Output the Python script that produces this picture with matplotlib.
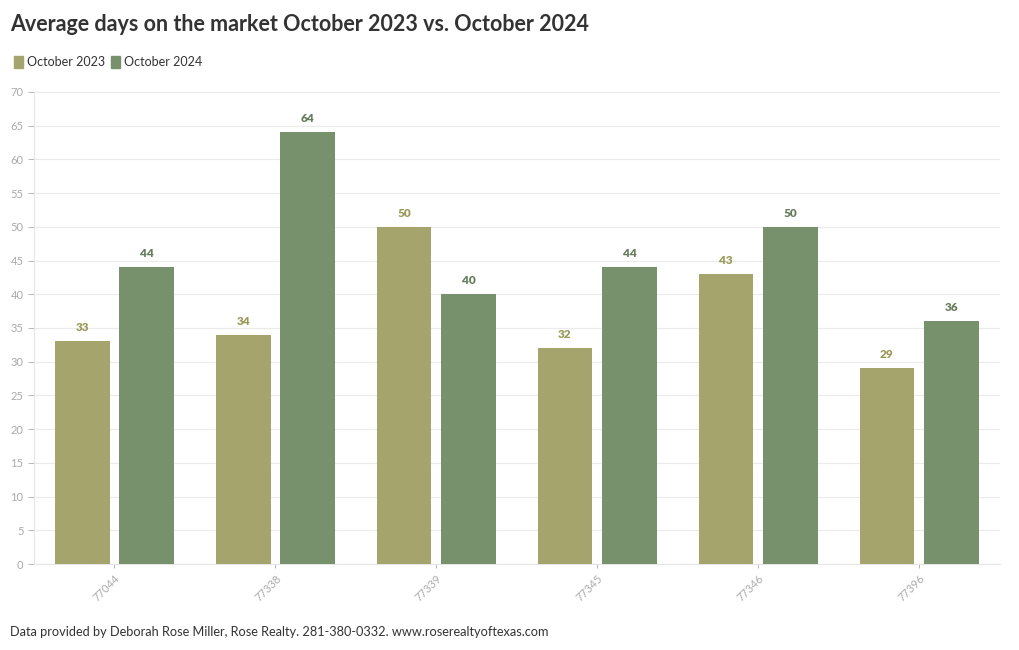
import matplotlib.pyplot as plt
import numpy as np
from matplotlib.patches import Patch

plt.rcParams['font.family'] = ['Lato', 'DejaVu Sans']

zips = ['77044', '77338', '77339', '77345', '77346', '77396']
oct_2023 = [33, 34, 50, 32, 43, 29]
oct_2024 = [44, 64, 40, 44, 50, 36]

c23 = '#a5a46c'
c24 = '#78916d'

fig = plt.figure(figsize=(10.2, 6.5), dpi=100)
ax = fig.add_axes([0.0333, 0.1323, 0.9467, 0.7262])

x = np.arange(len(zips))
w = 0.34
b1 = ax.bar(x - 0.2, oct_2023, w, color=c23, zorder=3)
b2 = ax.bar(x + 0.2, oct_2024, w, color=c24, zorder=3)

# value labels above each bar
for rect, v in zip(b1, oct_2023):
    ax.text(rect.get_x() + rect.get_width() / 2, v + 1.2, str(v), ha='center', va='bottom',
            fontsize=8.5, fontweight='heavy', color='#9a9a58')
for rect, v in zip(b2, oct_2024):
    ax.text(rect.get_x() + rect.get_width() / 2, v + 1.2, str(v), ha='center', va='bottom',
            fontsize=8.5, fontweight='heavy', color='#667d5c')

ax.set_xlim(-0.5, len(zips) - 0.5)
ax.set_ylim(0, 70)
ax.set_yticks(range(0, 71, 5))
ax.set_xticks(x)
ax.set_xticklabels(zips, rotation=45, ha='right', rotation_mode='anchor')
ax.tick_params(axis='both', colors='#aaaaaa', labelsize=8, length=4, width=0.6)
ax.tick_params(axis='x', length=3)
ax.grid(axis='y', color='#ebebeb', linewidth=0.8, zorder=0)
for s in ['top', 'right']:
    ax.spines[s].set_visible(False)
ax.spines['left'].set_color('#e6e6e6')
ax.spines['bottom'].set_color('#e6e6e6')

fig.text(0.01, 0.962, 'Average days on the market October 2023 vs. October 2024',
         fontsize=15.5, fontweight='bold', color='#333333', va='center')

handles = [Patch(color=c23, label='October 2023'), Patch(color=c24, label='October 2024')]
fig.legend(handles=handles, loc='center left', bbox_to_anchor=(0.003, 0.905), ncol=2,
           frameon=False, fontsize=9, handlelength=0.7, handleheight=1.1,
           handletextpad=0.3, columnspacing=0.5, labelcolor='#333333')

fig.text(0.01, 0.028, 'Data provided by Deborah Rose Miller, Rose Realty. 281-380-0332. www.roserealtyoftexas.com',
         fontsize=9.2, color='#333333', va='center')

fig.savefig('out.png', dpi=100)
